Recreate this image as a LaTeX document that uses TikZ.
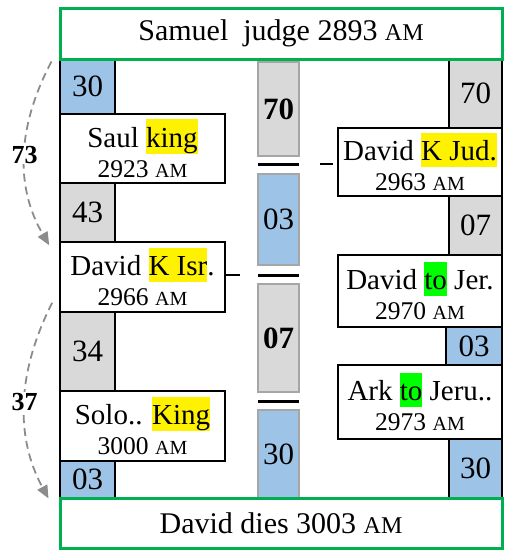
\documentclass[tikz,border=0pt]{standalone}
\usepackage{fontspec}
\setmainfont{Liberation Serif}
\usetikzlibrary{arrows.meta,calc}
\definecolor{boxgreen}{HTML}{00B050}
\definecolor{lblue}{HTML}{9DC3E6}
\definecolor{lgray}{HTML}{D9D9D9}
\definecolor{midgray}{HTML}{A6A6A6}
\definecolor{spangray}{HTML}{8C8C8C}
\definecolor{hlgreen}{HTML}{00FF00}
\newcommand\hlc[2]{{\setlength{\fboxsep}{0pt}\colorbox{#1}{\rule[-0.2em]{0pt}{1.17em}#2}}}
\newcommand\amsm[1]{{\fontsize{#1}{#1}\selectfont AM}}
\newcommand\lineone[1]{{\fontsize{29}{30}\selectfont #1}}
\begin{document}
\begin{tikzpicture}[x=1pt,y=-1pt,
  numbox/.style={draw=black, line width=1.6pt, inner sep=0pt, font=\fontsize{31}{31}\selectfont},
  evtbox/.style={draw=black, line width=1.6pt, fill=white, inner sep=0pt, align=center, font=\fontsize{25.5}{30}\selectfont},
  midbox/.style={draw=midgray, line width=2pt, inner sep=0pt, font=\fontsize{31}{31}\selectfont},
  midbold/.style={midbox, font=\fontsize{31}{31}\selectfont\bfseries},
  gbox/.style={draw=boxgreen, line width=3pt, fill=white, inner sep=0pt, font=\fontsize{30}{31}\selectfont},
  barline/.style={line width=3pt, black},
  conn/.style={line width=1.6pt, black},
  span/.style={draw=spangray, line width=1.8pt, dash pattern=on 8pt off 5pt, -{Triangle[length=13pt,width=11pt,fill=spangray]}},
  spanlbl/.style={fill=white, inner sep=1pt, text=black, font=\fontsize{26}{26}\selectfont\bfseries}
]
\useasboundingbox (0,0) rectangle (507,550);

% left column
\node[numbox, fill=lblue, minimum width=55, minimum height=55] (l30) at (87.5,86.5) {30};
\node[evtbox, minimum width=165, minimum height=69] (saul) at (142.5,148.5) {\lineone{Saul \hlc{yellow}{king}}\\2923 \amsm{20}};
\node[numbox, fill=lgray, minimum width=55, minimum height=59] (l43) at (87.5,212.5) {43};
\node[evtbox, minimum width=165, minimum height=70] (davidisr) at (142.5,277) {\lineone{David \hlc{yellow}{K Isr}.}\\2966 \amsm{20}};
\node[numbox, fill=lgray, minimum width=55, minimum height=79] (l34) at (87.5,351.5) {34};
\node[evtbox, minimum width=165, minimum height=70] (solo) at (142.5,426) {\lineone{Solo.. \hlc{yellow}{King}}\\3000 \amsm{20}};
\node[numbox, fill=lblue, minimum width=55, minimum height=37] (l03) at (87.5,479.5) {03};

% middle column
\node[midbold, fill=lgray, minimum width=41, minimum height=94] (m70) at (278.5,109) {70};
\node[midbox, fill=lblue, minimum width=41, minimum height=91] (m03) at (278.5,219.5) {03};
\node[midbold, fill=lgray, minimum width=41, minimum height=108] (m07) at (278.5,338) {07};
\node[midbox, fill=lblue, minimum width=41, minimum height=88] (m30) at (278.5,454) {30};
\draw[barline] (258,164) -- (299,164);
\draw[barline] (258,275) -- (299,275);
\draw[barline] (258,401) -- (299,401);

% right column
\node[numbox, fill=lgray, minimum width=53, minimum height=69] (r70) at (475.5,93.5) {70};
\node[evtbox, minimum width=164, minimum height=68] (davidjud) at (420,162) {\lineone{David \hlc{yellow}{K Jud.}}\\2963 \amsm{20}};
\node[numbox, fill=lgray, minimum width=53, minimum height=59] (r07) at (475.5,225.5) {07};
\node[evtbox, minimum width=164, minimum height=72] (davidjer) at (420,291) {\lineone{David \hlc{hlgreen}{to} Jer.}\\2970 \amsm{20}};
\node[numbox, fill=lblue, minimum width=56, minimum height=38] (r03) at (474,346) {03};
\node[evtbox, minimum width=164, minimum height=74] (ark) at (420,402) {\lineone{Ark \hlc{hlgreen}{to} Jeru..}\\2973 \amsm{20}};
\node[numbox, fill=lblue, minimum width=53, minimum height=59] (r30) at (475.5,468.5) {30};

% short connectors
\coordinate (isrend) at (240,275);
\draw[conn] (davidisr.east |- isrend) -- (isrend);
\coordinate (judA) at (320,164);
\coordinate (judB) at (333,164);
\draw[conn] (judA) -- (judB);

% green boxes
\node[gbox, minimum width=442, minimum height=51] (top) at (281,33.5) {Samuel~~judge 2893 \amsm{24}};
\node[gbox, minimum width=442, minimum height=50] (bottom) at (281,523) {David dies 3003 \amsm{24}};

% spans
\draw[span] ($(top.south west)+(-7,1)$) .. controls (18,125) and (14,185) .. ($(davidisr.north west)+(-10,4)$) node[pos=0.5, spanlbl] {73};
\draw[span] ($(davidisr.south west)+(-7,-10)$) .. controls (18,370) and (14,435) .. ($(bottom.north west)+(-10,2)$) node[pos=0.5, spanlbl] {37};
\end{tikzpicture}
\end{document}
